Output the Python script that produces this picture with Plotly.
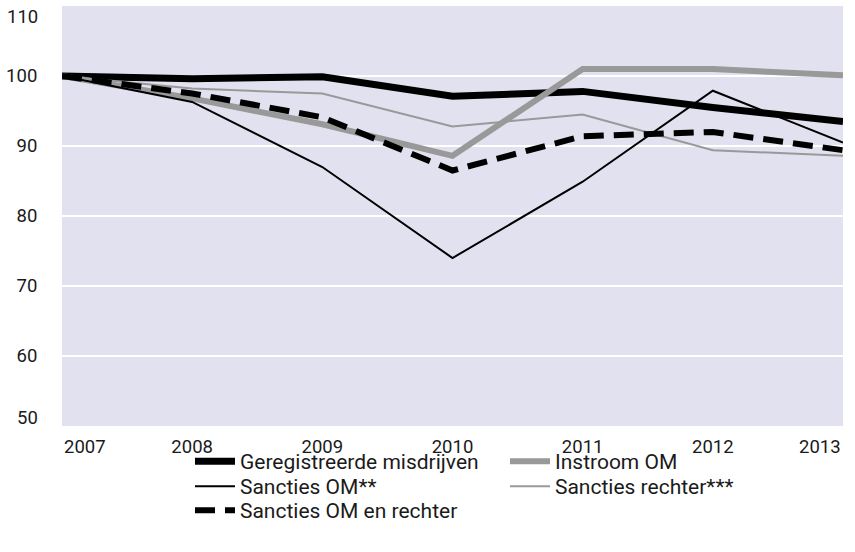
import plotly.graph_objects as go

years = [2007, 2008, 2009, 2010, 2011, 2012, 2013]
geregistreerde = [100, 99.6, 99.9, 97.1, 97.8, 95.5, 93.5]
instroom_om = [100, 96.8, 93.1, 88.6, 101.0, 101.0, 100.1]
sancties_om = [100, 96.3, 87.0, 74.0, 84.9, 97.9, 90.5]
sancties_rechter = [100, 98.2, 97.5, 92.8, 94.5, 89.4, 88.6]
sancties_om_rechter = [100, 97.5, 94.1, 86.5, 91.4, 92.0, 89.4]
y_ticks = [50, 60, 70, 80, 90, 100, 110]

FONT = "Roboto"
TXT = "#1a1a1a"
GRAY = "#999999"
TICK_SIZE = 18.5
LEG_SIZE = 21

fig = go.Figure()
fig.add_trace(go.Scatter(x=years, y=geregistreerde, mode="lines", name="Geregistreerde misdrijven",
                         line=dict(color="black", width=7), legend="legend"))
fig.add_trace(go.Scatter(x=years, y=instroom_om, mode="lines", name="Instroom OM",
                         line=dict(color=GRAY, width=6), legend="legend"))
fig.add_trace(go.Scatter(x=years, y=sancties_om, mode="lines", name="Sancties OM**",
                         line=dict(color="black", width=2), legend="legend2"))
fig.add_trace(go.Scatter(x=years, y=sancties_rechter, mode="lines", name="Sancties rechter***",
                         line=dict(color=GRAY, width=2), legend="legend2"))
fig.add_trace(go.Scatter(x=years, y=sancties_om_rechter, mode="lines", name="Sancties OM en rechter",
                         line=dict(color="black", width=6, dash="20px,10px"), legend="legend3"))

xticktext = [str(y) if 0 < i < len(years) - 1 else "" for i, y in enumerate(years)]
yticktext = [str(v) if 0 < i < len(y_ticks) - 1 else "" for i, v in enumerate(y_ticks)]
tfont = dict(family=FONT, size=TICK_SIZE, color=TXT)
annotations = [
    dict(x=years[0], y=0, xref="x", yref="paper", text=str(years[0]), showarrow=False,
         xanchor="left", yanchor="top", yshift=-8, font=tfont),
    dict(x=years[-1], y=0, xref="x", yref="paper", text=str(years[-1]), showarrow=False,
         xanchor="right", yanchor="top", yshift=-8, font=tfont),
    dict(x=0, y=y_ticks[-1], xref="paper", yref="y", text=str(y_ticks[-1]), showarrow=False,
         xanchor="right", yanchor="top", xshift=-22, yshift=2, font=tfont),
    dict(x=0, y=y_ticks[0], xref="paper", yref="y", text=str(y_ticks[0]), showarrow=False,
         xanchor="right", yanchor="bottom", xshift=-22, yshift=-5, font=tfont),
]


def leg(y):
    return dict(orientation="h", xref="container", yref="container", x=0.2222, y=y,
                xanchor="left", yanchor="top", entrywidth=260, traceorder="normal",
                font=dict(family=FONT, size=LEG_SIZE, color=TXT), bgcolor="rgba(0,0,0,0)",
                itemwidth=40, tracegroupgap=0)


fig.update_layout(
    width=855, height=552,
    margin=dict(l=62, r=12, t=6, b=126),
    paper_bgcolor="white",
    plot_bgcolor="#e2e1ef",
    font=dict(family=FONT, size=TICK_SIZE, color=TXT),
    showlegend=True,
    legend=leg(0.2011),
    legend2=leg(0.1558),
    legend3=leg(0.1123),
    annotations=annotations,
    xaxis=dict(range=[2007, 2013], tickvals=years, ticktext=xticktext, showgrid=False,
               zeroline=False, showline=False, ticks="", ticklabelstandoff=7, automargin=False,
               tickfont=tfont),
    yaxis=dict(range=[50, 110], tickvals=y_ticks, ticktext=yticktext, showgrid=True,
               gridcolor="white", gridwidth=2, zeroline=False, showline=False,
               ticks="outside", ticklen=20, tickcolor="rgba(0,0,0,0)",
               automargin=False, tickfont=tfont),
)

fig.write_html("out.html", config={"displayModeBar": False},
               post_script="document.body.style.margin='0';")
